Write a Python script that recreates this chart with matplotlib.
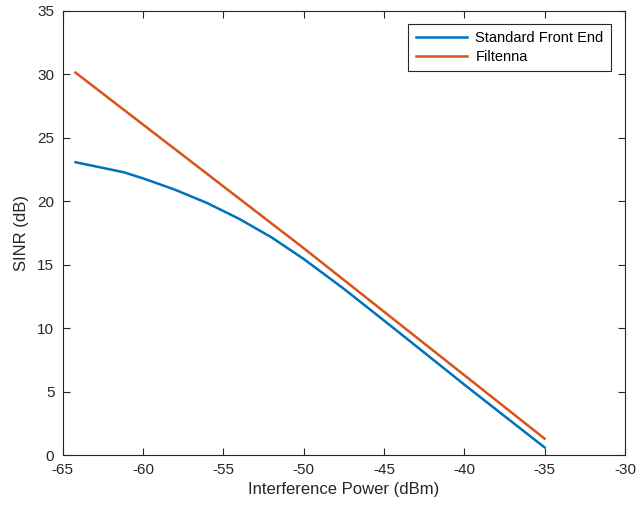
import matplotlib.pyplot as plt

plt.rcParams['font.family'] = ['Liberation Sans', 'DejaVu Sans']
plt.rcParams['axes.unicode_minus'] = False

# Interference power (dBm) and SINR (dB) for each front end
std_power = [-64.2, -61.2, -60.0, -58.0, -56.0, -54.0, -52.0, -50.0,
             -47.5, -45.0, -42.5, -40.0, -37.5, -35.0]
std_sinr = [23.07, 22.28, 21.8, 20.9, 19.85, 18.6, 17.15, 15.45,
            13.1, 10.6, 8.08, 5.55, 3.07, 0.6]

filt_power = [-64.2, -50.0, -35.0]
filt_sinr = [30.13, 16.3, 1.29]

x_ticks = [-65, -60, -55, -50, -45, -40, -35, -30]
y_ticks = [0, 5, 10, 15, 20, 25, 30, 35]

fig = plt.figure(figsize=(6.37, 5.15), dpi=100)
ax = fig.add_axes([0.0984, 0.1165, 0.8826, 0.8625])

ax.plot(std_power, std_sinr, color='#0072BD', linewidth=1.8, label='Standard Front End')
ax.plot(filt_power, filt_sinr, color='#D95319', linewidth=1.8, label='Filtenna')

ax.set_xlim(-65, -30)
ax.set_ylim(0, 35)
ax.set_xticks(x_ticks)
ax.set_yticks(y_ticks)

axis_color = '#262626'
for side in ax.spines.values():
    side.set_color(axis_color)
    side.set_linewidth(0.8)
ax.tick_params(direction='in', top=True, right=True, length=5, width=0.8,
               colors=axis_color, labelsize=11, pad=6)

ax.set_xlabel('Interference Power (dBm)', fontsize=12, color=axis_color, labelpad=3)
ax.set_ylabel('SINR (dB)', fontsize=12, color=axis_color, labelpad=6)

leg = ax.legend(loc='upper right', bbox_to_anchor=(0.975, 0.97), borderaxespad=0,
                fancybox=False, framealpha=1, edgecolor=axis_color, fontsize=10.5,
                handlelength=3.5, handletextpad=0.6, borderpad=0.5, labelspacing=0.3)
leg.get_frame().set_linewidth(0.8)

fig.savefig('out.png', dpi=100)
